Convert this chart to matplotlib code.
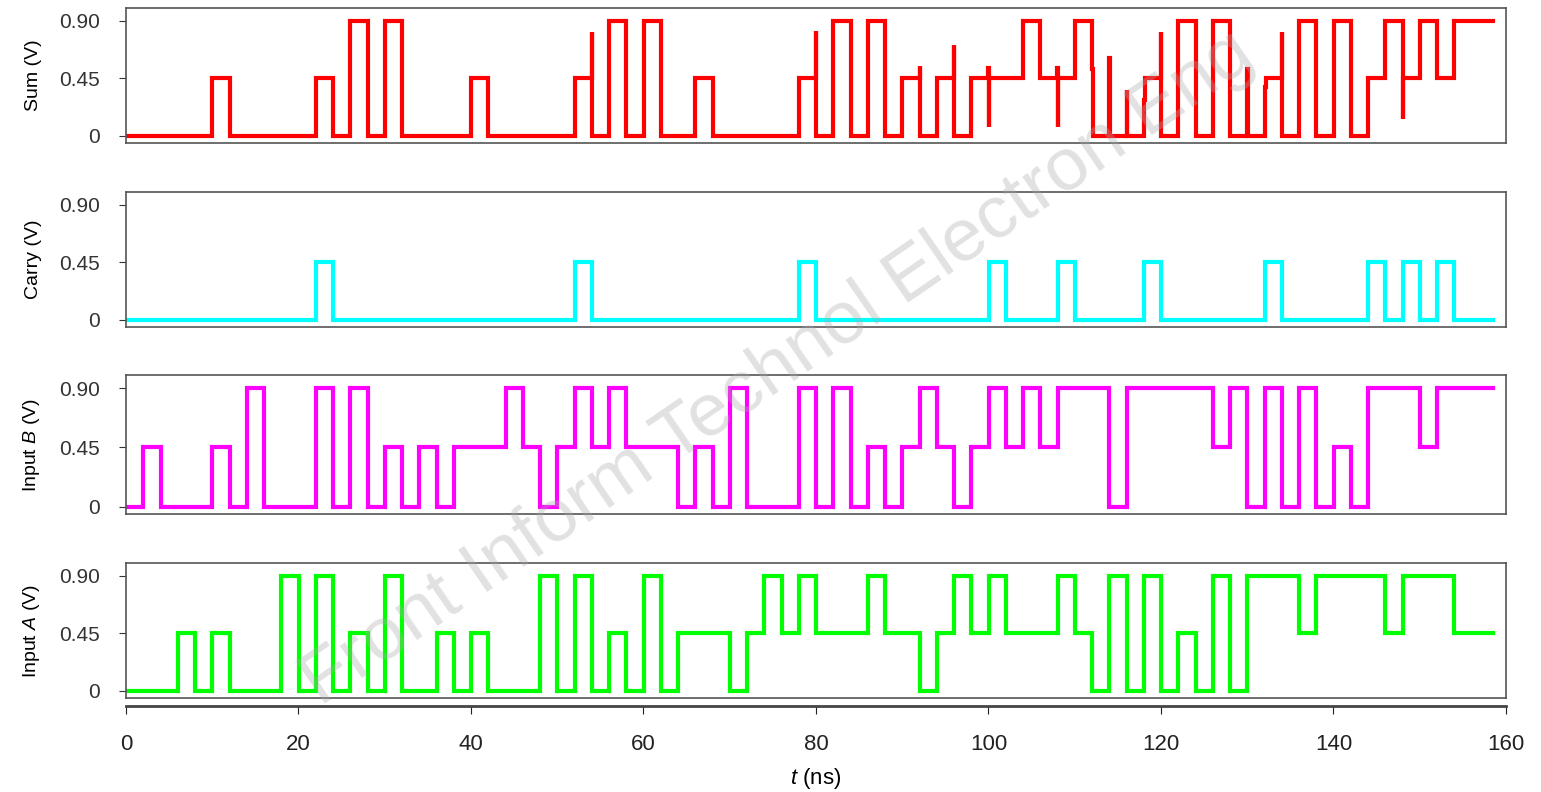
import matplotlib
matplotlib.use("Agg")
import matplotlib.pyplot as plt
import numpy as np

plt.rcParams["font.family"] = ["Liberation Sans", "DejaVu Sans"]
plt.rcParams["mathtext.fontset"] = "custom"
plt.rcParams["mathtext.it"] = "Liberation Sans:italic"
plt.rcParams["mathtext.rm"] = "Liberation Sans"

# --- data: ternary levels per 2 ns input slot (0 -> 0 V, 1 -> 0.45 V, 2 -> 0.90 V) ---
T_SLOT = 2.0
T_END = 158.5
LEVEL = 0.45

input_a = [0, 0, 0, 1, 0, 1, 0, 0, 0, 2, 0, 2, 0, 1, 0, 2, 0, 0, 1, 0,
           1, 0, 0, 0, 2, 0, 2, 0, 1, 0, 2, 0, 1, 1, 1, 0, 1, 2, 1, 2,
           1, 1, 1, 2, 1, 1, 0, 1, 2, 1, 2, 1, 1, 1, 2, 1, 0, 2, 0, 2,
           0, 1, 0, 2, 0, 2, 2, 2, 1, 2, 2, 2, 2, 1, 2, 2, 2, 1, 1]
input_b = [0, 1, 0, 0, 0, 1, 0, 2, 0, 0, 0, 2, 0, 2, 0, 1, 0, 1, 0, 1,
           1, 1, 2, 1, 0, 1, 2, 1, 2, 1, 1, 1, 0, 1, 0, 2, 0, 0, 0, 2,
           0, 2, 0, 1, 0, 1, 2, 1, 0, 1, 2, 1, 2, 1, 2, 2, 2, 0, 2, 2,
           2, 2, 2, 1, 2, 0, 2, 0, 2, 0, 1, 0, 2, 2, 2, 1, 2, 2, 2]
sum_out = [0, 0, 0, 0, 0, 1, 0, 0, 0, 0, 0, 1, 0, 2, 0, 2, 0, 0, 0, 0,
           1, 0, 0, 0, 0, 0, 1, 0, 2, 0, 2, 0, 0, 1, 0, 0, 0, 0, 0, 1,
           0, 2, 0, 2, 0, 1, 0, 1, 0, 1, 1, 1, 2, 1, 1, 2, 0, 0, 0, 1,
           0, 2, 0, 2, 0, 0, 1, 0, 2, 0, 2, 0, 1, 2, 1, 2, 1, 2, 2]
carry_out = [0, 0, 0, 0, 0, 0, 0, 0, 0, 0, 0, 1, 0, 0, 0, 0, 0, 0, 0, 0,
             0, 0, 0, 0, 0, 0, 1, 0, 0, 0, 0, 0, 0, 0, 0, 0, 0, 0, 0, 1,
             0, 0, 0, 0, 0, 0, 0, 0, 0, 0, 1, 0, 0, 0, 1, 0, 0, 0, 0, 1,
             0, 0, 0, 0, 0, 0, 1, 0, 0, 0, 0, 0, 1, 0, 1, 0, 1, 0, 0]

# glitches seen on the Sum output: (time ns, level V, duration ns)
sum_glitches = [(54.0, 0.81, 0.05), (80.0, 0.82, 0.05), (84.0, 0.58, 0.1),
                (92.0, 0.55, 0.05), (96.0, 0.71, 0.05),
                (99.95, 0.53, 0.05), (100.0, 0.07, 0.1),
                (107.95, 0.53, 0.05), (108.0, 0.07, 0.1),
                (112.0, 0.52, 0.1), (114.0, 0.61, 0.05), (116.0, 0.36, 0.05),
                (118.0, 0.28, 0.15), (120.0, 0.81, 0.05), (130.0, 0.52, 0.05),
                (132.0, 0.38, 0.15), (134.0, 0.81, 0.05), (148.0, 0.13, 0.1)]


def waveform(levels, glitches=()):
    t = list(np.arange(len(levels)) * T_SLOT) + [T_END]
    v = [x * LEVEL for x in levels] + [levels[-1] * LEVEL]
    segs = list(zip(t, v))
    for tg, vg, dt in glitches:
        idx = min(int((tg + dt) // T_SLOT), len(levels) - 1)
        after = levels[idx] * LEVEL
        segs = [s for s in segs if not (tg <= s[0] < tg + dt)]
        segs += [(tg, vg), (tg + dt, after)]
    segs.sort()
    ts, vs = zip(*segs)
    return ts, vs


panels = [
    ("Sum (V)", sum_out, sum_glitches, "#ff0000"),
    ("Carry (V)", carry_out, (), "#00ffff"),
    (r"Input $\mathit{B}$ (V)", input_b, (), "#ff00ff"),
    (r"Input $\mathit{A}$ (V)", input_a, (), "#00ff00"),
]

fig = plt.figure(figsize=(15.41, 7.92), dpi=100)
W, H = 1541, 792
left, right = 126, 1506
boxes = [(8, 143), (192, 327), (375, 514), (563, 698)]

axes = []
for (label, levels, gl, color), (top, bot) in zip(panels, boxes):
    ax = fig.add_axes([left / W, 1 - bot / H, (right - left) / W, (bot - top) / H])
    ts, vs = waveform(levels, gl)
    ax.step(ts, vs, where="post", color=color, linewidth=3.0, solid_joinstyle="miter")
    ax.set_xlim(0, 160)
    ax.set_ylim(-0.055, 1.0)
    ax.set_yticks([0, 0.45, 0.90])
    ax.set_yticklabels(["0", "0.45", "0.90"])
    ax.tick_params(axis="y", direction="out", length=5, pad=14, labelsize=15,
                   colors="#333333")
    ax.tick_params(axis="x", bottom=False, labelbottom=False)
    ax.set_ylabel(label, fontsize=14, labelpad=12)
    for sp in ax.spines.values():
        sp.set_color("#555555")
        sp.set_linewidth(1.2)
    axes.append(ax)

# separate time axis below the bottom panel
ax_b = axes[-1]
sec = ax_b.secondary_xaxis(-0.06)
sec.set_xticks(np.arange(0, 161, 20))
sec.tick_params(direction="out", length=6, labelsize=16, pad=14, colors="#222222")
sec.spines["bottom"].set_linewidth(2)
sec.spines["bottom"].set_color("#444444")
sec.set_xlabel(r"$\mathit{t}$ (ns)", fontsize=16, labelpad=8)

fig.text(0.505, 0.535, "Front Inform Technol Electron Eng", fontsize=54,
         color="#aaaaaa", alpha=0.35, rotation=34.5, ha="center", va="center",
         zorder=10)

fig.savefig("out.png", dpi=100)
